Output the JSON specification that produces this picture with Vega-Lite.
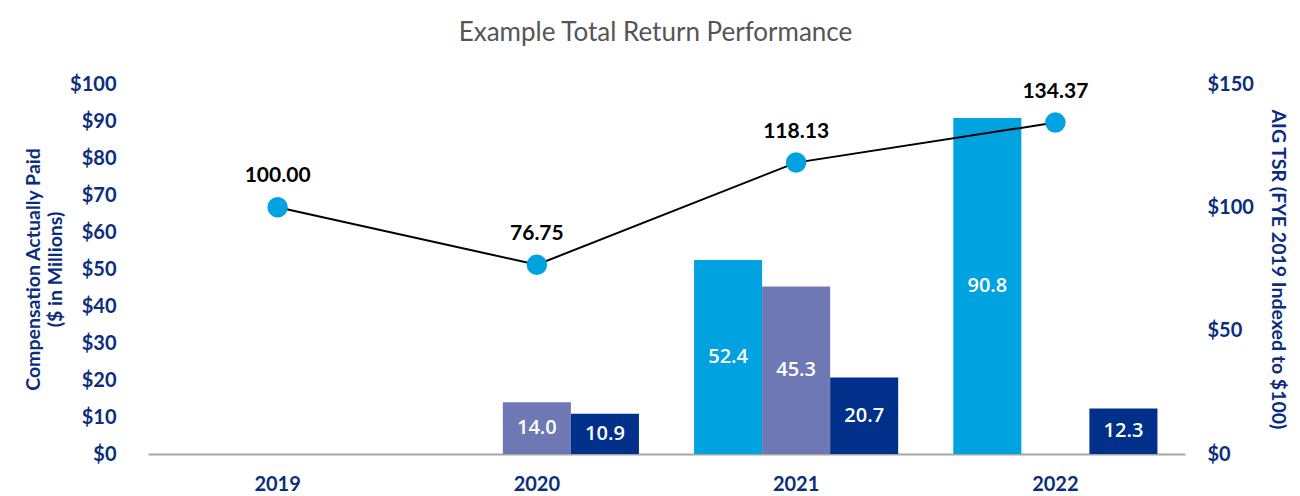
{
  "$schema": "https://vega.github.io/schema/vega-lite/v6.json",
  "width": 1037,
  "height": 370,
  "autosize": {"type": "none"},
  "padding": {"left": 148, "top": 84, "right": 115, "bottom": 42},
  "background": "white",
  "config": {
    "font": "Lato",
    "view": {"stroke": null},
    "axis": {"grid": false, "ticks": false, "labelFont": "Lato", "titleFont": "Lato"}
  },
  "title": {
    "text": "Example Total Return Performance",
    "font": "Lato",
    "fontSize": 26,
    "fontWeight": "normal",
    "color": "#555555",
    "anchor": "middle",
    "frame": "bounds",
    "offset": 28
  },
  "datasets": {
    "cap": [
      {"year": "2020", "series": "PEO 2", "value": 14.0},
      {"year": "2020", "series": "Average Non-PEO NEOs", "value": 10.9},
      {"year": "2021", "series": "PEO 1", "value": 52.4},
      {"year": "2021", "series": "PEO 2", "value": 45.3},
      {"year": "2021", "series": "Average Non-PEO NEOs", "value": 20.7},
      {"year": "2022", "series": "PEO 1", "value": 90.8},
      {"year": "2022", "series": "Average Non-PEO NEOs", "value": 12.3}
    ],
    "tsr": [
      {"year": "2019", "tsr": 100.00},
      {"year": "2020", "tsr": 76.75},
      {"year": "2021", "tsr": 118.13},
      {"year": "2022", "tsr": 134.37}
    ]
  },
  "encoding": {
    "x": {
      "field": "year",
      "type": "ordinal",
      "scale": {"domain": ["2019", "2020", "2021", "2022"], "paddingInner": 0, "paddingOuter": 0},
      "axis": {
        "title": null,
        "labelAngle": 0,
        "labelFontSize": 20,
        "labelFontWeight": "bold",
        "labelColor": "#0B2D7E",
        "labelPadding": 20,
        "domain": true,
        "domainColor": "#A6A6A6",
        "domainWidth": 2
      }
    }
  },
  "layer": [
    {
      "data": {"name": "cap"},
      "transform": [{"calculate": "datum.value / 2", "as": "mid"}],
      "encoding": {
        "xOffset": {
          "field": "series",
          "type": "nominal",
          "scale": {"domain": ["PEO 1", "PEO 2", "Average Non-PEO NEOs"], "paddingOuter": 0.405, "paddingInner": 0}
        }
      },
      "layer": [
        {
          "mark": {"type": "bar"},
          "encoding": {
            "y": {
              "field": "value",
              "type": "quantitative",
              "scale": {"domain": [0, 100]},
              "axis": {
                "orient": "left",
                "values": [0, 10, 20, 30, 40, 50, 60, 70, 80, 90, 100],
                "labelOverlap": false,
                "labelExpr": "'$' + datum.value",
                "labelFontSize": 20,
                "labelFontWeight": "bold",
                "labelColor": "#0B2D7E",
                "labelPadding": 32,
                "domain": false,
                "title": ["Compensation Actually Paid", "($ in Millions)"],
                "titleFontSize": 19.5,
                "titleFontWeight": "bold",
                "titleColor": "#0B2D7E",
                "titlePadding": 4,
                "titleLineHeight": 22
              }
            },
            "color": {
              "field": "series",
              "type": "nominal",
              "scale": {"domain": ["PEO 1", "PEO 2", "Average Non-PEO NEOs"], "range": ["#00A3E0", "#6E78B5", "#00308A"]},
              "legend": null
            }
          }
        },
        {
          "mark": {"type": "text", "color": "white", "font": "Open Sans", "fontSize": 20, "fontWeight": 600, "baseline": "middle", "align": "center"},
          "encoding": {
            "y": {
              "field": "mid",
              "type": "quantitative",
              "scale": {"domain": [0, 100]},
              "axis": {
                "orient": "left",
                "values": [0, 10, 20, 30, 40, 50, 60, 70, 80, 90, 100],
                "labelOverlap": false,
                "labelExpr": "'$' + datum.value",
                "labelFontSize": 20,
                "labelFontWeight": "bold",
                "labelColor": "#0B2D7E",
                "labelPadding": 32,
                "domain": false,
                "title": ["Compensation Actually Paid", "($ in Millions)"],
                "titleFontSize": 19.5,
                "titleFontWeight": "bold",
                "titleColor": "#0B2D7E",
                "titlePadding": 4,
                "titleLineHeight": 22
              }
            },
            "text": {"field": "value", "type": "quantitative", "format": ".1f"}
          }
        }
      ]
    },
    {
      "data": {"name": "tsr"},
      "encoding": {
        "y": {
          "field": "tsr",
          "type": "quantitative",
          "scale": {"domain": [0, 150]},
          "axis": {
            "orient": "right",
            "values": [0, 50, 100, 150],
            "labelOverlap": false,
            "labelExpr": "'$' + datum.value",
            "labelFontSize": 20,
            "labelFontWeight": "bold",
            "labelColor": "#0B2D7E",
            "labelPadding": 22,
            "domain": false,
            "title": "AIG TSR (FYE 2019 Indexed to $100)",
            "titleFontSize": 19.5,
            "titleFontWeight": "bold",
            "titleColor": "#0B2D7E",
            "titlePadding": 14
          }
        }
      },
      "layer": [
        {"mark": {"type": "line", "color": "black", "strokeWidth": 2}},
        {"mark": {"type": "point", "filled": true, "opacity": 1, "color": "#00A3E0", "size": 420}},
        {
          "mark": {"type": "text", "color": "black", "fontSize": 21, "fontWeight": "bold", "baseline": "middle", "dy": -31},
          "encoding": {"text": {"field": "tsr", "type": "quantitative", "format": ".2f"}}
        }
      ]
    }
  ],
  "resolve": {"scale": {"y": "independent"}}
}
